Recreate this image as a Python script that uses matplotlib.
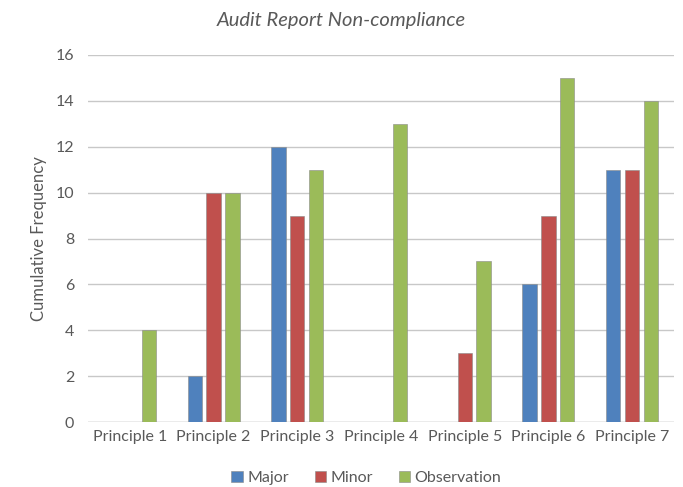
import numpy as np
import matplotlib.pyplot as plt

categories = ['Principle 1', 'Principle 2', 'Principle 3', 'Principle 4',
              'Principle 5', 'Principle 6', 'Principle 7']
major = [0, 2, 12, 0, 0, 6, 11]
minor = [0, 10, 9, 0, 3, 9, 11]
observation = [4, 10, 11, 13, 7, 15, 14]

plt.rcParams['font.family'] = ['Lato', 'DejaVu Sans']
txt = '#595959'

fig = plt.figure(figsize=(6.83, 4.87), dpi=100)
ax = fig.add_axes([88 / 683, 65 / 487, 586 / 683, 367 / 487])

x = np.arange(len(categories))
w = 0.17
step = 0.225
series = [('Major', major, '#4F81BD'),
          ('Minor', minor, '#C0504D'),
          ('Observation', observation, '#9BBB59')]
for i, (name, vals, col) in enumerate(series):
    ax.bar(x + (i - 1) * step, vals, width=w, color=col, label=name,
           edgecolor='#8a8a8a', linewidth=0.4, zorder=3)

ax.set_xlim(-0.5, len(categories) - 0.5)
ax.set_ylim(0, 16)
ax.set_yticks(range(0, 17, 2))
ax.set_xticks(x)
ax.set_xticklabels(categories)
ax.grid(axis='y', color='#c8c8c8', linewidth=1, zorder=0)
for s in ax.spines.values():
    s.set_visible(False)
ax.axhline(0, color='#c8c8c8', linewidth=1, zorder=1)
ax.tick_params(length=0, colors=txt, labelsize=11.5, pad=10)
ax.tick_params(axis='x', pad=6)
ax.set_ylabel('Cumulative Frequency', color=txt, fontsize=12, labelpad=6)

fig.text(0.5, 0.957, 'Audit Report Non-compliance', ha='center', va='center',
         fontsize=14.5, style='italic', color=txt)

ax.legend(loc='upper center', bbox_to_anchor=(0.475, -0.095), ncol=3,
          frameon=False, fontsize=11.5, handlelength=0.7, handleheight=0.7,
          handletextpad=0.3, columnspacing=1.6, labelcolor=txt)

fig.savefig('out.png', dpi=100)
